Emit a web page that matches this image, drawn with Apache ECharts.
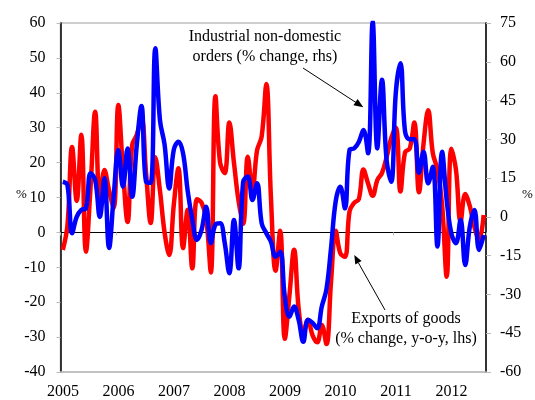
<!DOCTYPE html>
<html>
<head>
<meta charset="utf-8">
<script src="https://cdn.jsdelivr.net/npm/echarts@6/dist/echarts.min.js"></script>
<style>
html,body{margin:0;padding:0;background:#fff;}
#chart{width:535px;height:400px;}
</style>
</head>
<body>
<div id="chart"></div>
<script>
// Monthly data, Jan 2005 - Aug 2012
const years = ['2005','2006','2007','2008','2009','2010','2011','2012'];

// Exports of goods (% change, y-o-y, lhs)
const exportsGoods = [
  -5, 2, 24.5, 9, 28, -5.5, 13, 34.6, 9, 17.9, 12, 7,
  36.5, 18, 3, 25, 28, 33, 17, 2.7, 21.5, 12, 0, -6.5,
  8, 18.4, -4.5, 6.5, -10.3, 9.5, 8.5, 4, -11.5, 39, 20, 17,
  31.5, 20, 9, 2.5, 21.7, 12, 23.5, 27.5, 42.5, 10, -11, 0.5,
  -30.5, -18, -5, -22, -29, -25, -29.5, -31.5, -26.5, -32, -14, 0.5,
  -6, -7, 6, 8.5, 9.5, 18, 14, 10.5, 15, 17, 21.5, 27,
  30, 11.7, 23, 24, 31.5, 11.5, 25.5, 35, 22.7, 18, 8, -12.7,
  24, 18, 3, 11, 7.5, 1.5, -2, 5
];

// Industrial non-domestic orders (% change, rhs)
const industrialOrders = [
  13.6, 12.3, -6.3, 0, 2.7, 3.3, 16.9, 14.3, 0, 14.9, -12, 8,
  25.9, 11.7, 26.5, 7.8, 28, 42.9, 13.6, 13.2, 65.2, 37.5, 28, 11,
  26, 29.1, 24.6, 10, -1, -8.9, -5, 3.9, -10.2, -3, -2.5, -10,
  -21.8, -1.2, -19.9, 13.6, 15.6, 6.5, 13, -2.5, -6.3, -9.6, -15.4, -13.5,
  -30.9, -38.6, -34.7, -39.9, -48.3, -39.9, -41, -43.1, -34.7, -28, -12, 6,
  11.7, 3.3, 25.9, 26.5, 29, 33.6, 24.6, 75.5, 26.5, 53, 22, 13.6,
  48, 59.4, 33, 30, 30, 17, 25.2, 13, 19.4, -11.5, 25.2, 6.5,
  -6.3, -10.2, -1.2, -18.6, -3.8, 2.7, -12.8, -7
];

const FONT = '"Liberation Serif", "DejaVu Serif", serif';

const chart = echarts.init(document.getElementById('chart'));

const xCommon = {type: 'value', min: 0, max: 92, interval: 12, splitLine: {show: false}};

chart.setOption({
  animation: false,
  backgroundColor: '#fff',
  grid: {left: 60.5, right: 49, top: 23, bottom: 28, show: true, borderColor: '#BEBEBE', borderWidth: 1.6},
  xAxis: [
    Object.assign({}, xCommon, {
      position: 'bottom',
      axisLine: {onZero: false, lineStyle: {color: '#BEBEBE', width: 1.6}},
      axisTick: {show: false},
      axisLabel: {
        formatter: v => years[Math.round(v / 12)] || '',
        color: '#000', fontFamily: FONT, fontSize: 16, margin: 12, padding: [0, 0, 0, 5]
      }
    }),
    Object.assign({}, xCommon, {
      position: 'top',
      axisLine: {onZero: true, onZeroAxisIndex: 0, lineStyle: {color: '#000', width: 1}},
      axisTick: {show: true, inside: true, length: 3, lineStyle: {color: '#BBBBBB'}},
      axisLabel: {show: false}
    })
  ],
  yAxis: [
    {
      type: 'value', position: 'left', min: -40, max: 60, interval: 10,
      axisLine: {show: true, onZero: false, lineStyle: {color: '#000', width: 1.5}},
      axisTick: {show: true, length: 4, lineStyle: {color: '#BBBBBB'}},
      splitLine: {show: false},
      axisLabel: {color: '#000', fontFamily: FONT, fontSize: 16, margin: 15}
    },
    {
      type: 'value', position: 'right', min: -60, max: 75, interval: 15,
      axisLine: {show: true, onZero: false, lineStyle: {color: '#000', width: 1.5}},
      axisTick: {show: true, length: 5, lineStyle: {color: '#BBBBBB'}},
      splitLine: {show: false},
      axisLabel: {color: '#000', fontFamily: FONT, fontSize: 16, margin: 14}
    }
  ],
  series: [
    {
      name: 'Exports of goods', type: 'line', xAxisIndex: 0, yAxisIndex: 0,
      data: exportsGoods.map((v, i) => [i + 0.5, v]),
      smooth: 0.4, showSymbol: false, symbol: 'none', clip: true,
      lineStyle: {color: '#FF0000', width: 4.5}
    },
    {
      name: 'Industrial non-domestic orders', type: 'line', xAxisIndex: 0, yAxisIndex: 1,
      data: industrialOrders.map((v, i) => [i + 0.5, v]),
      smooth: 0.4, showSymbol: false, symbol: 'none', clip: true,
      lineStyle: {color: '#0000FF', width: 4.5}
    }
  ],
  graphic: [
    {type: 'text', left: 16, top: 188, style: {text: '%', font: '13px ' + FONT, fill: '#000'}},
    {type: 'text', left: 522, top: 188, style: {text: '%', font: '13px ' + FONT, fill: '#000'}},
    {type: 'text', x: 265, y: 37, style: {text: 'Industrial non-domestic', font: '16px ' + FONT, fill: '#000', textAlign: 'center', textVerticalAlign: 'middle'}},
    {type: 'text', x: 265, y: 56.5, style: {text: 'orders (% change, rhs)', font: '16px ' + FONT, fill: '#000', textAlign: 'center', textVerticalAlign: 'middle'}},
    {type: 'text', x: 406, y: 318.5, style: {text: 'Exports of goods', font: '16px ' + FONT, fill: '#000', textAlign: 'center', textVerticalAlign: 'middle'}},
    {type: 'text', x: 406, y: 338.5, style: {text: '(% change, y-o-y, lhs)', font: '16px ' + FONT, fill: '#000', textAlign: 'center', textVerticalAlign: 'middle'}},
    {type: 'line', shape: {x1: 303, y1: 68, x2: 356, y2: 102.5}, style: {stroke: '#000', lineWidth: 1}},
    {type: 'polygon', shape: {points: [[363.3, 107.3], [353.4, 105.2], [357.6, 99.0]]}, style: {fill: '#000'}},
    {type: 'line', shape: {x1: 385, y1: 310, x2: 358.5, y2: 263}, style: {stroke: '#000', lineWidth: 1}},
    {type: 'polygon', shape: {points: [[354.3, 255], [361.6, 261.0], [355.3, 264.6]]}, style: {fill: '#000'}}
  ]
});
</script>
</body>
</html>
